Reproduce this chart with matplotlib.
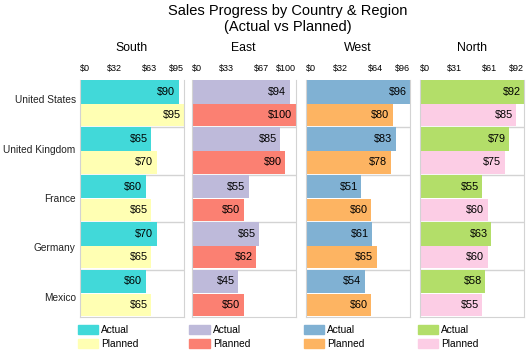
"""
Sales progress by country and region: actual vs planned, one panel per region.
"""

import numpy as np
import matplotlib
matplotlib.use("Agg")
import matplotlib.pyplot as plt
from matplotlib.patches import Patch

plt.rcParams["font.family"] = ["Liberation Sans", "DejaVu Sans"]

countries = ["United States", "United Kingdom", "France", "Germany", "Mexico"]
regions = ["South", "East", "West", "North"]

south_actual = [90, 65, 60, 70, 60]
south_planned = [95, 70, 65, 65, 65]
east_actual = [94, 85, 55, 65, 45]
east_planned = [100, 90, 50, 62, 50]
west_actual = [96, 83, 51, 61, 54]
west_planned = [80, 78, 60, 65, 60]
north_actual = [92, 79, 55, 63, 58]
north_planned = [85, 75, 60, 60, 55]

actual = [south_actual, east_actual, west_actual, north_actual]
planned = [south_planned, east_planned, west_planned, north_planned]

actual_colors = ["#41D9D9", "#BEBADA", "#80B1D3", "#B3DE69"]
planned_colors = ["#FFFFB3", "#FB8072", "#FDB462", "#FCCDE5"]

fig = plt.figure(figsize=(5.32, 3.55), dpi=100)
fig.text(0.541, 0.988, "Sales Progress by Country & Region\n(Actual vs Planned)",
         ha="center", va="top", fontsize=10.5, linespacing=1.2)

lefts = [0.150, 0.360, 0.575, 0.789]
width = 0.196
bottom, height = 0.107, 0.668
grid_col = "#d3d3d3"
n = len(countries)
idx = np.arange(n)

for k, region in enumerate(regions):
    ax = fig.add_axes([lefts[k], bottom, width, height])
    a = actual[k]
    p = planned[k]
    vmax = max(max(a), max(p))

    ax.barh(idx + 0.25, a, height=0.5, color=actual_colors[k], zorder=2)
    ax.barh(idx + 0.74, p, height=0.47, color=planned_colors[k], zorder=2)
    for i in idx:
        ax.annotate(f"${a[i]}", (a[i], i + 0.25), xytext=(-2.5, 0),
                    textcoords="offset points", ha="right", va="center",
                    fontsize=7.8, zorder=3)
        ax.annotate(f"${p[i]}", (p[i], i + 0.74), xytext=(-2.5, 0),
                    textcoords="offset points", ha="right", va="center",
                    fontsize=7.8, zorder=3)
    for b in range(1, n):
        ax.axhline(b, color=grid_col, lw=1, zorder=1)

    ax.set_xlim(0, vmax)
    ax.set_ylim(n, 0)
    ticks = np.linspace(0, vmax, 4)
    ax.xaxis.tick_top()
    ax.set_xticks(ticks)
    ax.set_xticklabels([f"${t:.0f}" for t in ticks], fontsize=6.5)
    ax.tick_params(axis="x", length=0, pad=5)
    tl = ax.get_xticklabels()
    tl[0].set_ha("left")
    tl[-1].set_ha("right")
    if k == 0:
        ax.set_yticks(idx + 0.5 + np.array([-0.1, -0.05, 0, 0.03, 0.08]))
        ax.set_yticklabels(countries, fontsize=7.3, color="#222222")
        ax.tick_params(axis="y", length=0, pad=3)
    else:
        ax.set_yticks([])
    for s in ax.spines.values():
        s.set_color(grid_col)
    ax.spines["top"].set_visible(False)

    fig.text(lefts[k] + width / 2, 0.865, region, ha="center", va="center",
             fontsize=8.8)

    handles = [Patch(color=actual_colors[k]), Patch(color=planned_colors[k])]
    ax.legend(handles, ["Actual", "Planned"], loc="upper left",
              bbox_to_anchor=(-0.02, -0.035), frameon=False, fontsize=7.3,
              handlelength=2.0, handleheight=1.0, handletextpad=0.3,
              labelspacing=0.4, borderpad=0, borderaxespad=0)

fig.savefig("out.png", dpi=100)
